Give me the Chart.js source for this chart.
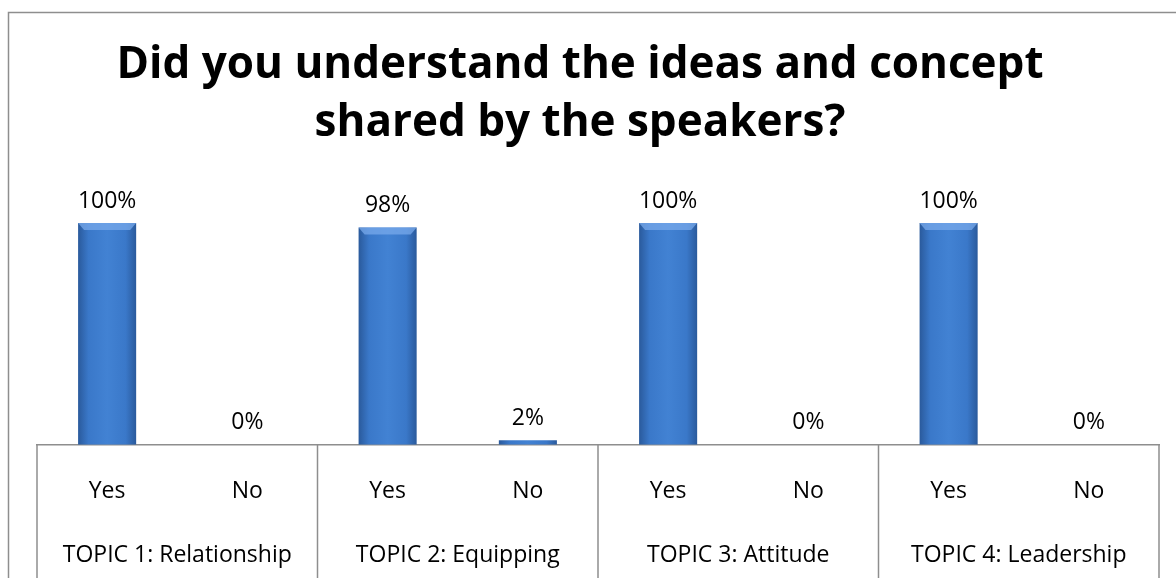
<!DOCTYPE html>
<html>
<head>
<meta charset="utf-8">
<script src="https://cdn.jsdelivr.net/npm/chart.js@4.4.0/dist/chart.umd.min.js"></script>
<style>
  html, body { margin: 0; padding: 0; background: #fff; }
  #wrap { width: 1176px; height: 578px; }
</style>
</head>
<body>
<div id="wrap"><canvas id="myChart" width="1176" height="578"></canvas></div>
<script>
const answers = ['Yes', 'No', 'Yes', 'No', 'Yes', 'No', 'Yes', 'No'];
const topics = ['TOPIC 1: Relationship', 'TOPIC 2: Equipping', 'TOPIC 3: Attitude', 'TOPIC 4: Leadership'];
const percents = [100, 0, 98, 2, 100, 0, 100, 0];
const titleLines = ['Did you understand the ideas and concept', 'shared by the speakers?'];

const lineGray = '#8e8e8e';
const barRatio = 0.414;

// blue bar with darker sides
function barFill(context) {
  const chart = context.chart;
  if (!chart.chartArea) return '#3b7bd0';
  const x = chart.scales.x.getPixelForValue(context.dataIndex);
  const half = chart.chartArea.width / answers.length * barRatio / 2;
  const g = chart.ctx.createLinearGradient(x - half, 0, x + half, 0);
  g.addColorStop(0, '#2a5a9c');
  g.addColorStop(0.18, '#3a78c9');
  g.addColorStop(0.5, '#4282d3');
  g.addColorStop(0.82, '#3a78c9');
  g.addColorStop(1, '#2a5a9c');
  return g;
}

// outer box + title, centred on the frame rather than the plot
const frame = {
  id: 'frame',
  beforeDraw(chart) {
    const c = chart.ctx;
    c.save();
    c.strokeStyle = lineGray;
    c.lineWidth = 1.5;
    c.strokeRect(8.5, 12.5, 1300, 700);
    c.fillStyle = '#000';
    c.font = 'bold 44px "Open Sans"';
    c.textAlign = 'center';
    c.textBaseline = 'alphabetic';
    c.fillText(titleLines[0], 580, 78);
    c.fillText(titleLines[1], 580, 136);
    c.restore();
  }
};

const bevel = {
  id: 'bevel',
  afterDatasetsDraw(chart) {
    const c = chart.ctx;
    const meta = chart.getDatasetMeta(0);
    c.save();
    meta.data.forEach(function (bar) {
      const h = bar.base - bar.y;
      if (h < 12) return;
      const l = bar.x - bar.width / 2, r = bar.x + bar.width / 2;
      c.fillStyle = 'rgba(120,170,235,0.75)';
      c.beginPath();
      c.moveTo(l, bar.y);
      c.lineTo(r, bar.y);
      c.lineTo(r - 6, bar.y + 7);
      c.lineTo(l + 6, bar.y + 7);
      c.closePath();
      c.fill();
    });
    c.restore();
  }
};

const valueLabels = {
  id: 'valueLabels',
  afterDatasetsDraw(chart) {
    const c = chart.ctx;
    const meta = chart.getDatasetMeta(0);
    c.save();
    c.font = '23px "Open Sans"';
    c.fillStyle = '#000';
    c.textAlign = 'center';
    c.textBaseline = 'middle';
    meta.data.forEach(function (bar, i) {
      c.fillText(percents[i] + '%', bar.x, bar.y - 22);
    });
    c.restore();
  }
};

const tableLines = {
  id: 'tableLines',
  afterDraw(chart) {
    const c = chart.ctx;
    const x = chart.scales.x;
    const area = chart.chartArea;
    const xs = [area.left];
    for (let k = 1; k < topics.length; k++) {
      xs.push((x.getPixelForValue(2 * k - 1) + x.getPixelForValue(2 * k)) / 2);
    }
    xs.push(area.right);
    c.save();
    c.strokeStyle = lineGray;
    c.lineWidth = 1.5;
    xs.forEach(function (px) {
      c.beginPath();
      c.moveTo(px, area.bottom);
      c.lineTo(px, chart.height);
      c.stroke();
    });
    c.restore();
  }
};

var ctx = document.getElementById('myChart').getContext('2d');
var myChart = new Chart(ctx, {
  type: 'bar',
  data: {
    labels: answers,
    datasets: [{
      data: percents,
      backgroundColor: barFill,
      borderWidth: 0,
      barPercentage: barRatio,
      categoryPercentage: 1
    }]
  },
  options: {
    responsive: false,
    animation: false,
    layout: { padding: { top: 223, left: 37, right: 17, bottom: 6 } },
    plugins: {
      legend: { display: false },
      tooltip: { enabled: false },
      title: { display: false }
    },
    scales: {
      y: { display: false, min: 0, max: 100 },
      x: {
        weight: 0,
        grid: { display: false, drawTicks: false },
        border: { display: true, color: lineGray, width: 1.5 },
        ticks: { color: '#000', font: { family: 'Open Sans', size: 23 }, padding: 33, maxRotation: 0, autoSkip: false }
      },
      x2: {
        type: 'category',
        position: 'bottom',
        weight: 1,
        labels: topics,
        offset: true,
        grid: { display: false, drawTicks: false },
        border: { display: false },
        ticks: { color: '#000', font: { family: 'Open Sans', size: 23 }, padding: 3, maxRotation: 0, autoSkip: false }
      }
    }
  },
  plugins: [frame, bevel, valueLabels, tableLines]
});
</script>
</body>
</html>
